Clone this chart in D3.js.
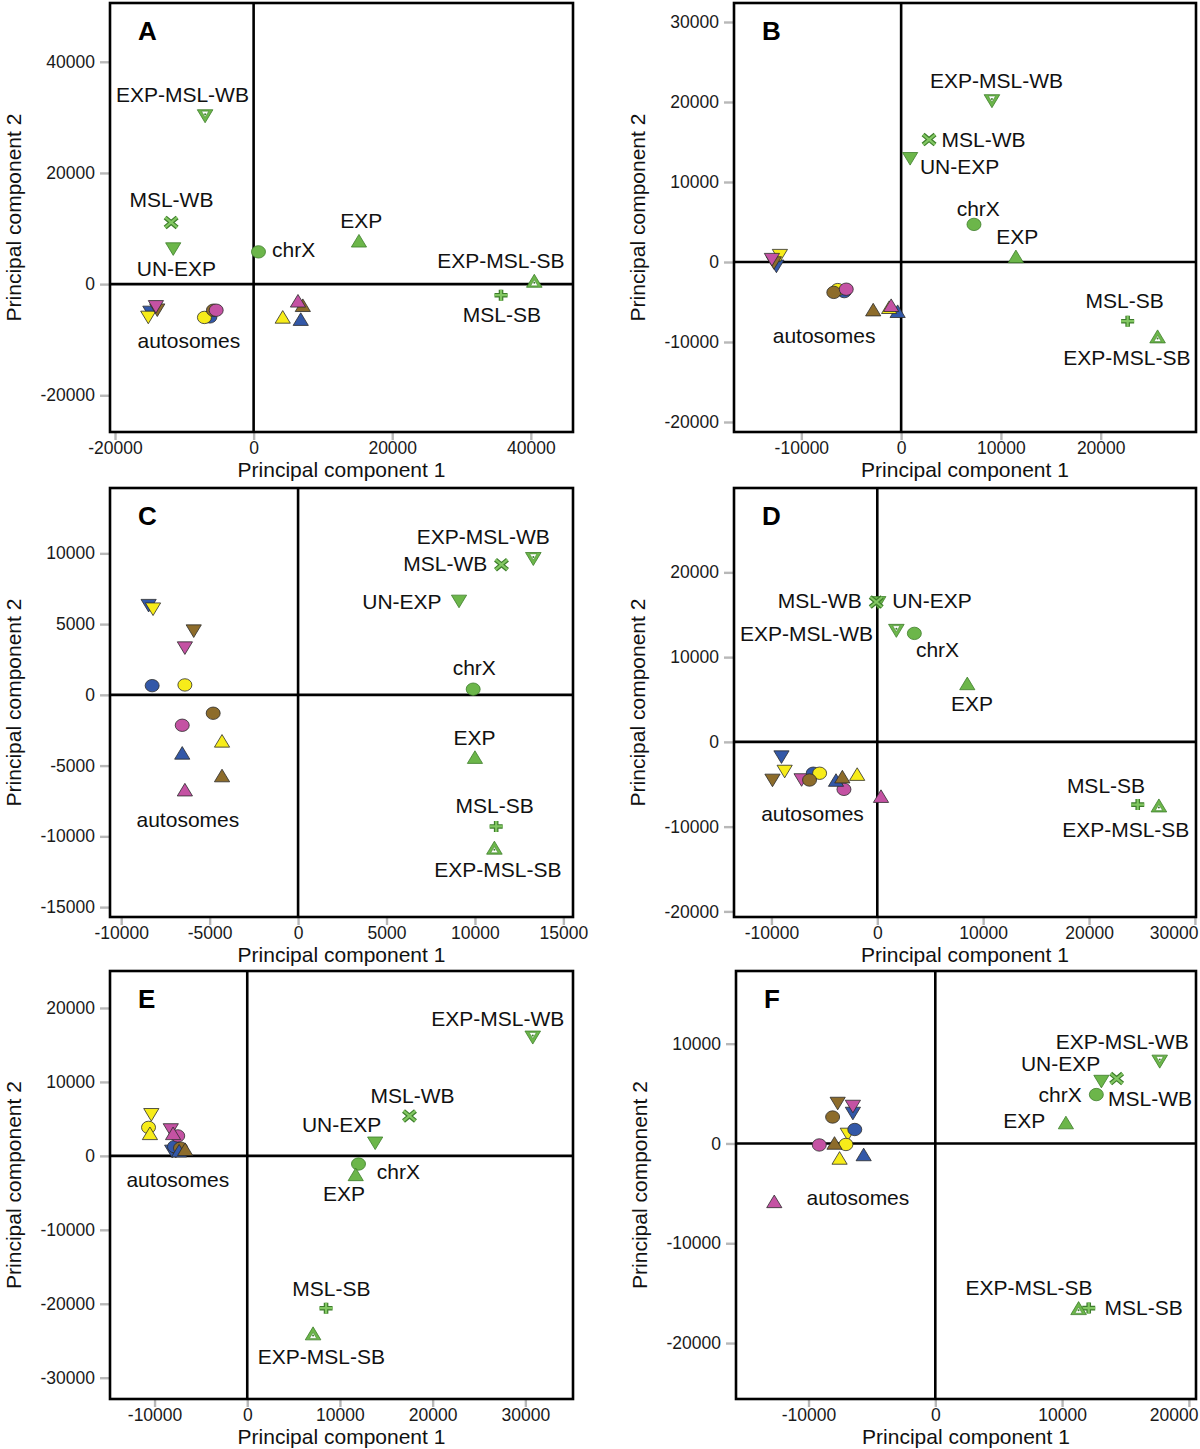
<!DOCTYPE html>
<html><head><meta charset="utf-8">
<script src="https://cdn.jsdelivr.net/npm/d3@7"></script>
<style>
body{margin:0;background:#fff}
svg{display:block}
text{font-family:"Liberation Sans",Arial,Helvetica,sans-serif}
</style>
</head><body>
<svg id="chart" width="1200" height="1449"></svg>
<script>
// ---------------- DATA ----------------
const panelIds = ["A","B","C","D","E","F"];
const xTitle = "Principal component 1";
const yTitle = "Principal component 2";

// axis extents (data units) read from the frames
const xDomains = [[-20723,46084],[-16750,29550],[-10634,15544],[-13535,30104],[-14806,35140],[-15719,20561]];
const yDomains = [[-26612,50577],[-21250,32375],[-15700,14618],[-20661,29953],[-32878,25000],[-25607,17282]];

// tick values
const xTicks = [
  [-20000,0,20000,40000],
  [-10000,0,10000,20000],
  [-10000,-5000,0,5000,10000,15000],
  [-10000,0,10000,20000,30000],
  [-10000,0,10000,20000,30000],
  [-10000,0,10000,20000]
];
const yTicks = [
  [-20000,0,20000,40000],
  [-20000,-10000,0,10000,20000,30000],
  [-15000,-10000,-5000,0,5000,10000],
  [-20000,-10000,0,10000,20000],
  [-30000,-20000,-10000,0,10000,20000],
  [-20000,-10000,0,10000]
];

// green samples (chromosome X based sets)
const sampleNames  = ["chrX","EXP","UN-EXP","MSL-WB","MSL-SB","EXP-MSL-WB","EXP-MSL-SB"];
const sampleShapes = ["circle","up","down","x","plus","downOpen","upOpen"];
// [PC1, PC2] per panel, same order as sampleNames
const samplesA = [[700,5800],[15200,7800],[-11600,6300],[-11900,11100],[35700,-2000],[-7000,30200],[40500,600]];
const samplesB = [[7300,4700],[11500,700],[900,12900],[2800,15300],[22700,-7400],[9100,20100],[25700,-9300]];
const samplesC = [[9900,400],[10000,-4400],[9100,6600],[11500,9200],[11200,-9300],[13300,9600],[11100,-10800]];
const samplesD = [[3500,12800],[8500,6900],[100,16400],[-100,16500],[24600,-7400],[1800,13100],[26600,-7500]];
const samplesE = [[12000,-1100],[11700,-2500],[13800,1700],[17500,5400],[8500,-20600],[30800,16000],[7100,-24000]];
const samplesF = [[12700,4900],[10300,2100],[13100,6200],[14300,6500],[12100,-16500],[17700,8200],[11300,-16500]];

// autosome points: 3 shapes x 4 arms
const autoShapes = ["down","circle","up"];
const autoArms   = ["blue","yellow","brown","magenta"];
// order: down(blue,yellow,brown,magenta), circle(...), up(...)
const autosomesA = [[-14900,-5100],[-15200,-6000],[-13900,-4700],[-14100,-4100],
                    [-6300,-5900],[-7100,-6000],[-5800,-4700],[-5400,-4700],
                    [6800,-6300],[4200,-5900],[7100,-3800],[6400,-3000]];
const autosomesB = [[-12500,-550],[-12150,790],[-12750,-130],[-12950,290],
                    [-5700,-3700],[-6350,-3450],[-6750,-3800],[-5500,-3400],
                    [-350,-6150],[-1200,-5650],[-2800,-5950],[-1000,-5400]];
const autosomesC = [[-8450,6300],[-8200,6050],[-5900,4500],[-6400,3300],
                    [-8250,650],[-6400,700],[-4800,-1300],[-6550,-2150],
                    [-6550,-4100],[-4300,-3250],[-4300,-5700],[-6400,-6700]];
const autosomesD = [[-9050,-1800],[-8750,-3500],[-9900,-4550],[-7150,-4500],
                    [-6050,-3700],[-5450,-3700],[-6400,-4500],[-3150,-5600],
                    [-3900,-4500],[-1900,-3800],[-3300,-4100],[350,-6400]];
const autosomesE = [[-8100,600],[-10350,5550],[-7700,600],[-8250,3500],
                    [-7850,1250],[-10650,3850],[-7200,1050],[-7500,2700],
                    [-7350,700],[-10500,3050],[-6700,900],[-8000,3050]];
const autosomesF = [[-6500,3000],[-6900,900],[-7700,4000],[-6500,3700],
                    [-6350,1400],[-7050,-100],[-8100,2650],[-9150,-150],
                    [-5650,-1100],[-7550,-1450],[-7950,50],[-12700,-5800]];

// text labels: [text, PC1, PC2] (centre of the text)
const labelsA = [["EXP-MSL-WB",-10270,34110],["MSL-WB",-11860,15140],["UN-EXP",-11140,2830],["chrX",5770,6220],
                 ["EXP",15520,11440],["EXP-MSL-SB",35680,4290],["MSL-SB",35820,-5440],["autosomes",-9340,-10240]];
const labelsB = [["EXP-MSL-WB",9560,22640],["MSL-WB",8260,15290],["UN-EXP",5860,11910],["chrX",7730,6690],
                 ["EXP",11650,3200],["MSL-SB",22400,-4860],["EXP-MSL-SB",22630,-11990],["autosomes",-7720,-9190]];
const labelsC = [["EXP-MSL-WB",10470,11200],["MSL-WB",8320,9250],["UN-EXP",5870,6600],["chrX",9960,1950],
                 ["EXP",9970,-3030],["MSL-SB",11110,-7840],["EXP-MSL-SB",11300,-12320],["autosomes",-6230,-8830]];
const labelsD = [["MSL-WB",-5440,16700],["UN-EXP",5170,16700],["EXP-MSL-WB",-6690,12770],["chrX",5690,10860],
                 ["EXP",8950,4510],["MSL-SB",21600,-5110],["EXP-MSL-SB",23470,-10300],["autosomes",-6120,-8410]];
const labelsE = [["EXP-MSL-WB",27030,18600],["MSL-WB",17830,8130],["UN-EXP",10180,4230],["chrX",16300,-2120],
                 ["EXP",10450,-5110],["MSL-SB",9080,-17900],["EXP-MSL-SB",7990,-27130],["autosomes",-7490,-3220]];
const labelsF = [["EXP-MSL-WB",14740,10250],["UN-EXP",9880,7970],["chrX",9840,4900],["MSL-WB",16930,4490],
                 ["EXP",7020,2290],["EXP-MSL-SB",7390,-14420],["MSL-SB",16430,-16500],["autosomes",-6100,-5470]];

const allSamples   = [samplesA,samplesB,samplesC,samplesD,samplesE,samplesF];
const allAutosomes = [autosomesA,autosomesB,autosomesC,autosomesD,autosomesE,autosomesF];
const allLabels    = [labelsA,labelsB,labelsC,labelsD,labelsE,labelsF];

// ---------------- LAYOUT / STYLE ----------------
const frames = [
  {l:110, r:573,  t:3,   b:432},
  {l:734, r:1196, t:3,   b:432},
  {l:110, r:573,  t:488, b:917},
  {l:734, r:1196, t:488, b:917},
  {l:110, r:573,  t:971, b:1399},
  {l:736, r:1196, t:971, b:1399}
];
const armColor = {blue:"#3358a8", yellow:"#f7ec1a", brown:"#8d6c2b", magenta:"#c452a3"};
const green = "#6cb64a", greenDark = "#3d7d2b", greenLight = "#82c762";
const W = 1200;
const fmt = d => String(d);   // plain hyphen-minus, as in the figure

const svg = d3.select("#chart");

function triPath(dir, w, h){
  return dir === "up"
    ? `M${-w},${h}L${w},${h}L0,${-h}Z`
    : `M${-w},${-h}L${w},${-h}L0,${h}Z`;
}

function drawMarker(g, shape, fill, stroke){
  if (shape === "circle") {
    g.append("ellipse").attr("rx",7).attr("ry",6.2)
      .attr("fill",fill).attr("stroke",stroke).attr("stroke-width",0.8);
  } else if (shape === "up" || shape === "down") {
    g.append("path").attr("d",triPath(shape,7.6,6.3))
      .attr("fill",fill).attr("stroke",stroke).attr("stroke-width",0.8).attr("stroke-linejoin","round");
  } else if (shape === "upOpen" || shape === "downOpen") {
    const dir = shape === "upOpen" ? "up" : "down";
    g.append("path").attr("d",triPath(dir,7.8,6.5))
      .attr("fill",green).attr("stroke",greenDark).attr("stroke-width",0.8);
    const cy = dir === "up" ? 2.1 : -2.1;
    g.append("path").attr("d",triPath(dir,3.6,3.0))
      .attr("transform",`translate(0,${cy})`)
      .attr("fill","#fff").attr("stroke",greenDark).attr("stroke-width",0.5);
    g.append("circle").attr("cy",cy).attr("r",1).attr("fill",greenDark);
  } else if (shape === "x") {
    const d = "M-6,-5L6,5M-6,5L6,-5";
    g.append("path").attr("d",d).attr("stroke",greenDark).attr("stroke-width",4.6).attr("fill","none");
    g.append("path").attr("d",d).attr("stroke",greenLight).attr("stroke-width",2.2).attr("fill","none");
  } else if (shape === "plus") {
    const d = "M-6.5,0L6.5,0M0,-5.5L0,5.5";
    g.append("path").attr("d",d).attr("stroke",greenDark).attr("stroke-width",4.6).attr("fill","none");
    g.append("path").attr("d",d).attr("stroke",greenLight).attr("stroke-width",2.2).attr("fill","none");
  }
}

panelIds.forEach((id, i) => {
  const f = frames[i];
  const x = d3.scaleLinear().domain(xDomains[i]).range([f.l, f.r]);
  const y = d3.scaleLinear().domain(yDomains[i]).range([f.b, f.t]);
  const g = svg.append("g");

  // axes
  const xa = g.append("g").attr("transform",`translate(0,${f.b})`)
    .call(d3.axisBottom(x).tickValues(xTicks[i]).tickSize(8).tickPadding(2).tickFormat(fmt));
  const ya = g.append("g").attr("transform",`translate(${f.l},0)`)
    .call(d3.axisLeft(y).tickValues(yTicks[i]).tickSize(10).tickPadding(5).tickFormat(fmt));
  [xa, ya].forEach(a => {
    a.select(".domain").remove();
    a.selectAll(".tick line").attr("stroke","#b8b8b8").attr("stroke-width",2.4);
    a.selectAll(".tick text").attr("fill","#1a1a1a").style("font-size","17.5px")
      .style("font-family",'"Liberation Sans",Arial,sans-serif');
  });
  // keep x tick labels inside the picture
  xa.selectAll(".tick").each(function(v){
    const t = d3.select(this).select("text");
    const w = t.node().getComputedTextLength();
    const cx = x(v);
    if (cx + w/2 > W - 2) t.attr("x", (W - 2) - w/2 - cx);
  });

  // frame and zero lines
  g.append("rect").attr("x",f.l).attr("y",f.t).attr("width",f.r-f.l).attr("height",f.b-f.t)
    .attr("fill","none").attr("stroke","#000").attr("stroke-width",2.6);
  g.append("line").attr("x1",x(0)).attr("x2",x(0)).attr("y1",f.t).attr("y2",f.b)
    .attr("stroke","#000").attr("stroke-width",2.6);
  g.append("line").attr("x1",f.l).attr("x2",f.r).attr("y1",y(0)).attr("y2",y(0))
    .attr("stroke","#000").attr("stroke-width",2.6);

  // axis titles
  g.append("text").attr("x",(f.l+f.r)/2).attr("y",f.b+45).attr("text-anchor","middle")
    .style("font-size","21px").attr("fill","#111").text(xTitle);
  g.append("text").attr("transform",`translate(${f.l-96},${(f.t+f.b)/2}) rotate(-90)`)
    .attr("dy","0.35em").attr("text-anchor","middle")
    .style("font-size","21px").attr("fill","#111").text(yTitle);

  // panel letter
  g.append("text").attr("x",f.l+28).attr("y",f.t+37).style("font-size","26px")
    .style("font-weight","bold").attr("fill","#000").text(id);

  // autosomes
  const auto = allAutosomes[i].map((p, k) => ({x:p[0], y:p[1],
      shape:autoShapes[Math.floor(k/4)], arm:autoArms[k%4]}));
  g.selectAll(".auto").data(auto).enter().append("g").attr("class","auto")
    .attr("transform",d => `translate(${x(d.x)},${y(d.y)})`)
    .each(function(d){ drawMarker(d3.select(this), d.shape, armColor[d.arm], "#2b2b2b"); });

  // green samples
  const smp = allSamples[i].map((p, k) => ({x:p[0], y:p[1], shape:sampleShapes[k], name:sampleNames[k]}));
  g.selectAll(".smp").data(smp).enter().append("g").attr("class","smp")
    .attr("transform",d => `translate(${x(d.x)},${y(d.y)})`)
    .each(function(d){ drawMarker(d3.select(this), d.shape, green, greenDark); });

  // labels
  g.selectAll(".lab").data(allLabels[i]).enter().append("text").attr("class","lab")
    .attr("x",d => x(d[1])).attr("y",d => y(d[2])).attr("dy","0.35em")
    .attr("text-anchor","middle").style("font-size","21px").attr("fill","#111")
    .text(d => d[0]);
});
</script>
</body></html>
